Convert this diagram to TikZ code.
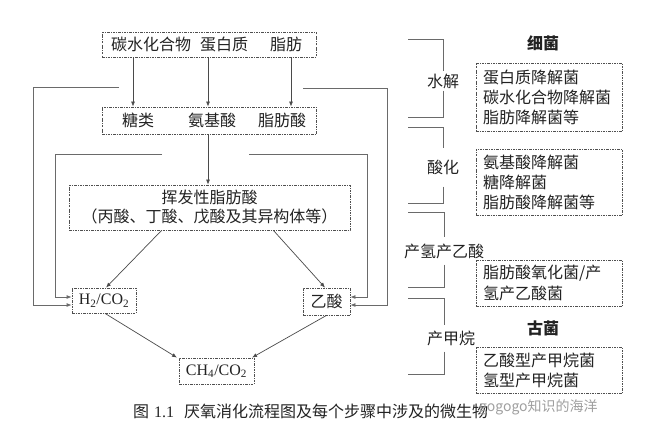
\documentclass[tikz,border=0pt]{standalone}
\usepackage{fontspec}
\setmainfont{Noto Sans CJK SC}
\newfontfamily\tnr{Liberation Serif}
\usepackage{xcolor}
\usetikzlibrary{arrows.meta}
\definecolor{boxgray}{HTML}{505050}
\definecolor{linegray}{HTML}{4A4A4A}
\definecolor{feedgray}{HTML}{6A6A6A}
\definecolor{txt}{HTML}{222222}

\begin{document}
\begin{tikzpicture}[x=1pt, y=-1pt,
  font=\fontsize{16}{20}\selectfont, text=txt,
  dbox/.style={draw=boxgray, line width=0.8pt, dash pattern=on 2.5pt off 1.2pt on 0.6pt off 1.2pt, inner sep=0pt},
  word/.style={inner sep=0pt},
  arrow/.style={-{Latex[length=5pt,width=4pt]}, draw=linegray, line width=0.7pt},
  feed/.style={draw=feedgray, line width=0.8pt},
  bracket/.style={draw=feedgray, line width=0.8pt},
  tag/.style={inner xsep=2pt},
  microbe/.style={dbox, align=left, text width=132pt, inner xsep=7pt, minimum width=146pt},
  latin/.style={font=\tnr\fontsize{16}{18}\selectfont}
]
\useasboundingbox (0,0) rectangle (670,444);

% substrates and hydrolysis products
\node[dbox, minimum width=214pt, minimum height=25pt] (raw) at (209,44.5) {};
\node[word] (carb) at (151,44.5) {碳水化合物};
\node[word] (prot) at (224,44.5) {蛋白质};
\node[word] (fat) at (286,44.5) {脂肪};

\node[dbox, minimum width=214pt, minimum height=27pt] (mono) at (209,120.5) {};
\node[word] (sug) at (138,120.5) {糖类};
\node[word] (amino) at (212,120.5) {氨基酸};
\node[word] (lcfa) at (282,120.5) {脂肪酸};

\draw[arrow] ([xshift=-5pt]raw.south -| sug) -- ([xshift=-5pt]mono.north -| sug);
\draw[arrow] ([xshift=-4pt]raw.south -| amino) -- ([xshift=-4pt]mono.north -| amino);
\draw[arrow] ([xshift=9pt]raw.south -| lcfa) -- ([xshift=9pt]mono.north -| lcfa);

% volatile fatty acids
\node[dbox, minimum width=281pt, minimum height=45pt, align=center,
  font=\fontsize{16}{19}\selectfont] (vfa) at (209.5,207.5)
  {挥发性脂肪酸\\（丙酸、丁酸、戊酸及其异构体等）};
\draw[arrow] ([xshift=-1pt]mono.south) -- ([xshift=-1pt]mono.south |- vfa.north);

% final products
\node[dbox, latin, minimum width=64pt, minimum height=25pt] (h2) at (104,300.5) {H\textsubscript{2}/CO\textsubscript{2}};
\node[dbox, minimum width=47pt, minimum height=27pt] (ace) at (326.5,301.5) {乙酸};
\node[dbox, latin, minimum width=75pt, minimum height=26pt] (ch4) at (216.5,371) {CH\textsubscript{4}/CO\textsubscript{2}};

\draw[arrow] ([xshift=93pt]vfa.south west) -- ([xshift=2pt]h2.north);
\draw[arrow] ([xshift=-77pt]vfa.south east) -- ([xshift=-1.5pt]ace.north);
\draw[arrow] ([xshift=1pt]h2.south) -- ([xshift=-39.5pt]ch4.north);
\draw[arrow] (ace.south) -- ([xshift=35.5pt]ch4.north);

% side routes
\coordinate (outL) at (119,87);
\coordinate (inL) at (162,154);
\coordinate (outR) at (303,88);
\coordinate (inR) at (249,154);
\draw[arrow, feed] (outL) -- (33,87) |- ([yshift=-4.5pt]h2.west);
\draw[arrow, feed] (inL) -- (55,154) |- ([yshift=3.5pt]h2.west);
\draw[arrow, feed] (outR) -- (387,88) |- ([yshift=-3.5pt]ace.east);
\draw[arrow, feed] (inR) -- (367,154) |- ([yshift=4.5pt]ace.east);

% stages
\node[tag, inner ysep=2pt] (hyd) at (443,81) {水解};
\draw[bracket] (408,39) -| (hyd.north);
\draw[bracket] (hyd.south) |- (408,117);
\node[tag, inner ysep=11.5pt] (acid) at (443,167.5) {酸化};
\draw[bracket] (408,127) -| (acid.north);
\draw[bracket] (acid.south) |- (408,203);
\node[tag, inner ysep=6pt] (acet) at (444,251) {产氢产乙酸};
\draw[bracket] (408,212) -| (acet.north);
\draw[bracket] (acet.south) |- (408,287);
\node[tag, inner ysep=5.5pt] (meth) at (451,338.5) {产甲烷};
\draw[bracket] (408,298) -| ([xshift=-7pt]meth.north);
\draw[bracket] ([xshift=-7pt]meth.south) |- (408,374);

% microbes
\node[font=\fontsize{16}{20}\selectfont\bfseries] (bact) at (543,43) {细菌};
\node[microbe, minimum height=68pt] (mA) at (549,97) {蛋白质降解菌\\碳水化合物降解菌\\脂肪降解菌等};
\node[microbe, minimum height=66pt] (mB) at (549,182) {氨基酸降解菌\\糖降解菌\\脂肪酸降解菌等};
\node[microbe, minimum height=46pt, font=\fontsize{16}{21}\selectfont] (mC) at (549,283) {脂肪酸氧化菌/产\\氢产乙酸菌};
\node[font=\fontsize{16}{20}\selectfont\bfseries] (arch) at (543,328) {古菌};
\node[microbe, minimum height=46pt] (mD) at (549,370) {乙酸型产甲烷菌\\氢型产甲烷菌};

% caption
\node[word, anchor=west] (cap) at (133,411) {图\hspace{5pt}{\tnr 1.1}\hspace{10pt}厌氧消化流程图及每个步骤中涉及的微生物};
\node[word, anchor=west, text=gray!75, font=\fontsize{14}{14}\selectfont] (mark) at (479,407) {gogogo知识的海洋};

\end{tikzpicture}
\end{document}
